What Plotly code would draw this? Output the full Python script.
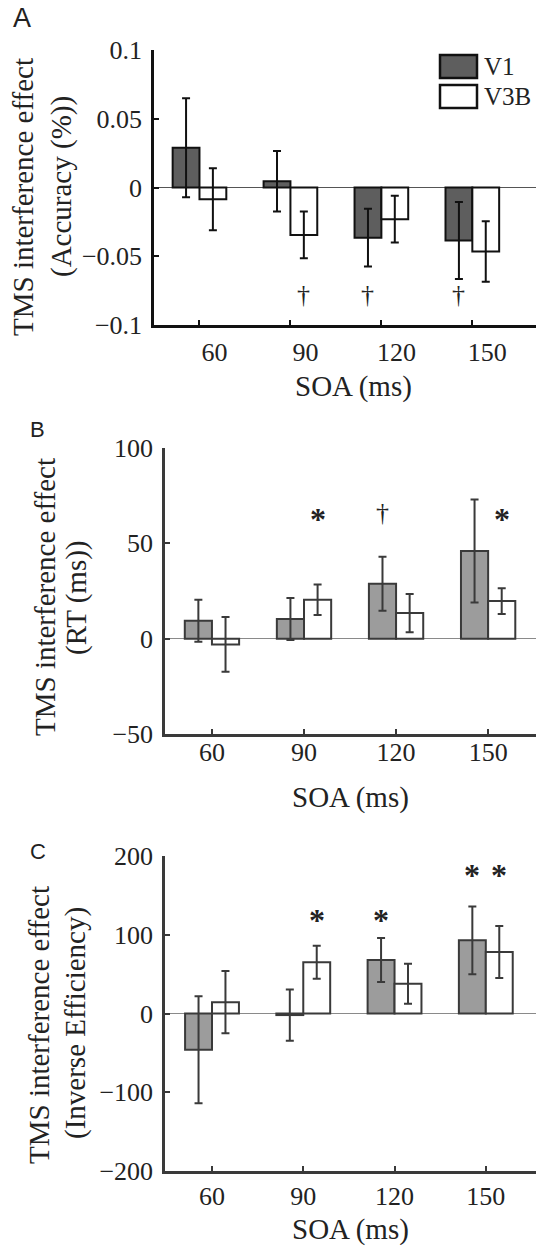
import plotly.graph_objects as go

W, H = 536, 1249

# ---------------- data ----------------
soa = ["60", "90", "120", "150"]
series = ["V1", "V3B"]

acc_v1 = [0.029, 0.0045, -0.0365, -0.0385]
acc_v1_err = [0.036, 0.022, 0.021, 0.028]
acc_v3b = [-0.0085, -0.0345, -0.023, -0.0465]
acc_v3b_err = [0.0225, 0.017, 0.017, 0.022]

rt_v1 = [9.4, 10.3, 28.8, 46.0]
rt_v1_err = [11.0, 11.0, 14.2, 27.0]
rt_v3b = [-3.0, 20.4, 13.4, 19.7]
rt_v3b_err = [14.3, 8.0, 10.0, 6.8]

ie_v1 = [-46.0, -2.0, 68.0, 93.0]
ie_v1_err = [68.0, 32.6, 28.0, 43.0]
ie_v3b = [14.4, 65.0, 37.7, 78.0]
ie_v3b_err = [39.6, 21.0, 25.4, 33.0]

# significance marks: (category index, series index, symbol, y value)
sig_a = [(1, 1, "†", -0.078), (2, 0, "†", -0.078), (3, 0, "†", -0.078)]
sig_b = [(1, 1, "*", 63), (2, 0, "†", 66), (3, 1, "*", 63)]
sig_c = [(1, 1, "*", 119), (2, 0, "*", 119), (3, 0, "*", 176), (3, 1, "*", 176)]

acc_ticks = [0.1, 0.05, 0, -0.05, -0.1]
acc_ticktext = ["0.1", "0.05", "0", "−0.05", "−0.1"]
rt_ticks = [-50, 0, 50, 100]
ie_ticks = [-200, -100, 0, 100, 200]

# ---------------- style ----------------
SERIF = "Liberation Serif, Times New Roman, serif"
SANS = "Liberation Sans, Arial, sans-serif"
BARGAP = 0.41
HALF = (1 - BARGAP) / 4  # offset of each bar centre from category centre
TICK = 26


def px(x):
    return x / W


def py(y):
    return 1 - y / H


panels = [
    dict(v1=acc_v1, e1=acc_v1_err, v3=acc_v3b, e3=acc_v3b_err, sig=sig_a,
         xa="x", ya="y", xdom=[px(154), 1], ydom=[py(325), py(50)],
         xr=[-0.5, 3.70], yr=[-0.1, 0.1], tv=acc_ticks, tt=acc_ticktext,
         dark="#5e5e5e", edge="#111111", axc="#111111", zc="#555555",
         shift=15, xstand=2),
    dict(v1=rt_v1, e1=rt_v1_err, v3=rt_v3b, e3=rt_v3b_err, sig=sig_b,
         xa="x2", ya="y2", xdom=[px(165), 1], ydom=[py(734), py(448)],
         xr=[-0.51, 3.52], yr=[-50, 100], tv=rt_ticks, tt=[str(t).replace("-", "−") for t in rt_ticks],
         dark="#9c9c9c", edge="#3a3a3a", axc="#3a3a3a", zc="#8a8a8a",
         shift=0, xstand=-7),
    dict(v1=ie_v1, e1=ie_v1_err, v3=ie_v3b, e3=ie_v3b_err, sig=sig_c,
         xa="x3", ya="y3", xdom=[px(165), 1], ydom=[py(1171), py(856)],
         xr=[-0.515, 3.55], yr=[-200, 200], tv=ie_ticks, tt=[str(t).replace("-", "−") for t in ie_ticks],
         dark="#9c9c9c", edge="#3a3a3a", axc="#3a3a3a", zc="#8a8a8a",
         shift=0, xstand=0),
]

fig = go.Figure()
annotations = []

for i, p in enumerate(panels):
    for name, vals, errs, fill in [("V1", p["v1"], p["e1"], p["dark"]),
                                   ("V3B", p["v3"], p["e3"], "#ffffff")]:
        fig.add_trace(go.Bar(
            x=soa, y=vals, name=name, xaxis=p["xa"], yaxis=p["ya"],
            marker=dict(color=fill, line=dict(color=p["edge"], width=2)),
            error_y=dict(type="data", array=errs, visible=True,
                         color=p["edge"], thickness=2, width=4),
            showlegend=False,
        ))
    sfx = "" if i == 0 else str(i + 1)
    fig.layout["xaxis" + sfx] = dict(
        domain=p["xdom"], anchor=p["ya"], range=p["xr"], type="category",
        showline=True, linecolor=p["axc"], linewidth=2.5,
        ticks="inside", ticklen=5, tickwidth=2, tickcolor=p["axc"],
        showgrid=False, zeroline=False, ticklabelshift=p["shift"],
        ticklabelstandoff=p["xstand"], automargin=False,
        tickfont=dict(family=SERIF, size=TICK, color="#222222"),
    )
    fig.layout["yaxis" + sfx] = dict(
        domain=p["ydom"], anchor=p["xa"], range=p["yr"],
        tickvals=p["tv"], ticktext=p["tt"],
        showline=True, linecolor=p["axc"], linewidth=2.5,
        ticks="inside", ticklen=5, tickwidth=2, tickcolor=p["axc"],
        showgrid=False, zeroline=True, zerolinecolor=p["zc"], zerolinewidth=1.2,
        ticklabelstandoff=4, automargin=False,
        tickfont=dict(family=SERIF, size=TICK, color="#222222"),
    )
    for ci, si, sym, yv in p["sig"]:
        star = sym == "*"
        annotations.append(dict(
            x=ci + (-HALF if si == 0 else HALF), y=yv, xref=p["xa"], yref=p["ya"],
            text="<b>*</b>" if star else sym, showarrow=False,
            xanchor="center", yanchor="middle",
            font=dict(family=SERIF, size=32 if star else 26, color="#222222"),
        ))

# axis titles and panel letters
texts = [
    ("A", 22, 18, 27, SANS, 0),
    ("B", 37, 429, 22, SANS, 0),
    ("C", 38, 851, 22, SANS, 0),
    ("TMS interference effect", 23, 197, 29, SERIF, -90),
    ("(Accuracy (%))", 61, 187, 29, SERIF, -90),
    ("TMS interference effect", 45, 597, 29, SERIF, -90),
    ("(RT (ms))", 76, 598, 29, SERIF, -90),
    ("TMS interference effect", 39, 1025, 29, SERIF, -90),
    ("(Inverse Efficiency)", 75, 1023, 29, SERIF, -90),
    ("SOA (ms)", 353, 386, 29, SERIF, 0),
    ("SOA (ms)", 350, 797, 29, SERIF, 0),
    ("SOA (ms)", 350, 1229, 29, SERIF, 0),
]
for t, x, y, s, fam, ang in texts:
    annotations.append(dict(
        x=px(x), y=py(y), xref="paper", yref="paper", text=t, showarrow=False,
        xanchor="center", yanchor="middle", textangle=ang,
        font=dict(family=fam, size=s, color="#222222"),
    ))

# legend (panel A)
shapes = []
for name, fill, y0, y1 in [("V1", "#5e5e5e", 55, 78), ("V3B", "#ffffff", 85, 108)]:
    shapes.append(dict(type="rect", xref="paper", yref="paper",
                       x0=px(440), x1=px(477), y0=py(y1), y1=py(y0),
                       fillcolor=fill, line=dict(color="#111111", width=2.5)))
    annotations.append(dict(
        x=px(482), y=py((y0 + y1) / 2), xref="paper", yref="paper", text=name,
        showarrow=False, xanchor="left", yanchor="middle",
        font=dict(family=SERIF, size=25, color="#222222"),
    ))

fig.update_layout(
    width=W, height=H, margin=dict(l=0, r=0, t=0, b=0, pad=0, autoexpand=False),
    paper_bgcolor="white", plot_bgcolor="white",
    barmode="group", bargap=BARGAP, bargroupgap=0,
    annotations=annotations, shapes=shapes, showlegend=False,
)

fig.write_html(
    "out.html",
    config={"displayModeBar": False, "responsive": False},
    post_script="document.body.style.margin='0';document.body.style.overflow='hidden';",
)
